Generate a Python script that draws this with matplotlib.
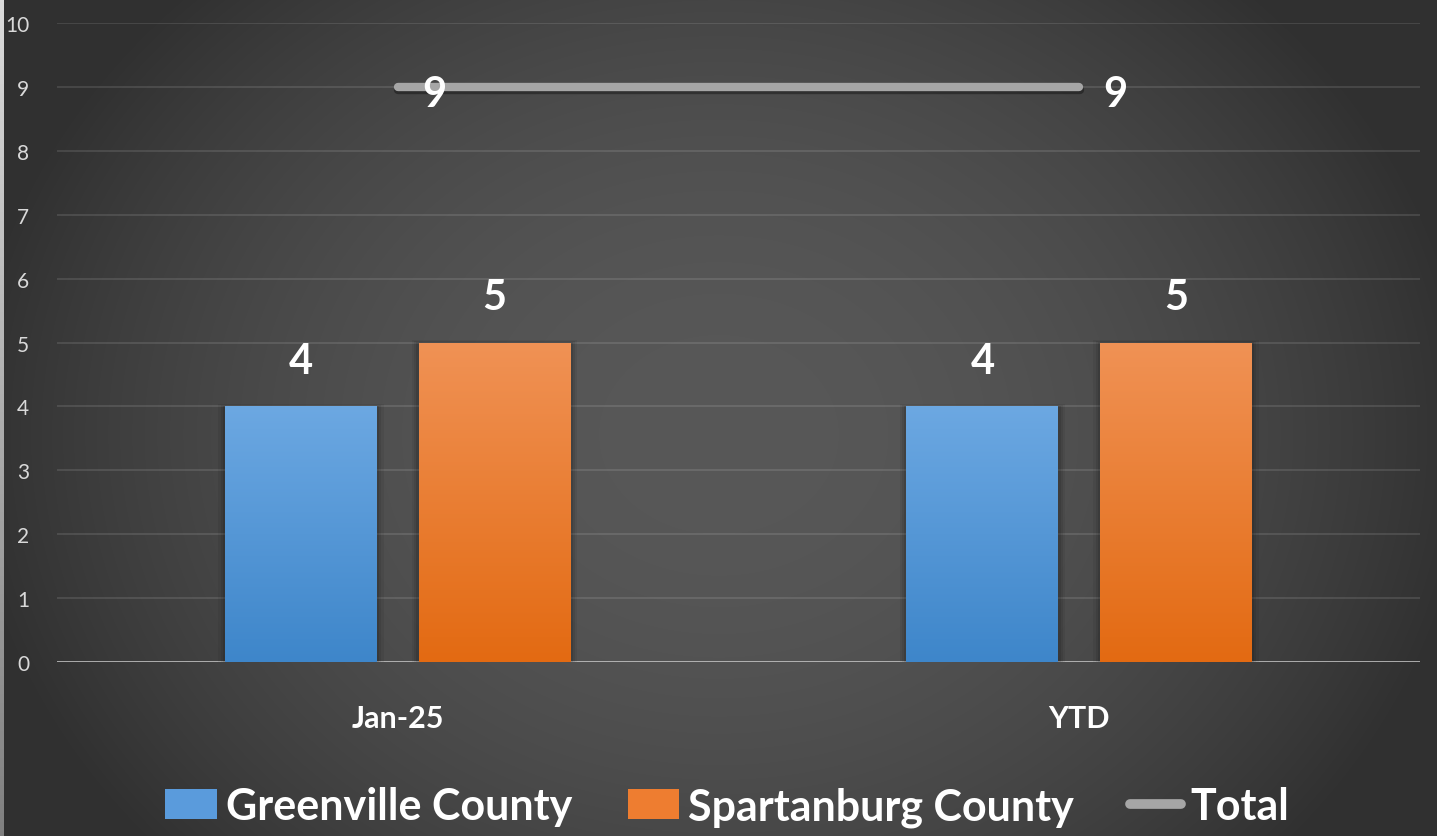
import numpy as np
import matplotlib
matplotlib.use("Agg")
import matplotlib.pyplot as plt
from matplotlib.patches import Rectangle
from matplotlib.lines import Line2D
import matplotlib.patheffects as pe

# ---- data ----
categories = ["Jan-25", "YTD"]
greenville = [4, 4]
spartanburg = [5, 5]
total = [9, 9]
yticks = list(range(0, 11))
series_names = ["Greenville County", "Spartanburg County", "Total"]

FONT = ["Lato", "DejaVu Sans"]
plt.rcParams["font.family"] = FONT

W, H = 1437, 837
fig = plt.figure(figsize=(W / 100, H / 100), dpi=100)

# ---- background: radial dark-gray gradient ----
bg = fig.add_axes([0, 0, 1, 1], zorder=-10)
yy, xx = np.mgrid[0:H, 0:W]
dx = (xx / W - 0.5) / 0.5
dy = (yy / H - 0.52) / 0.5
d2 = dx ** 2 + (dy * 0.7) ** 2
lev = np.clip(88 - 36 * d2, 48, 88) / 255.0
img = np.dstack([lev, lev, lev])
# light strip on the left edge
strip = np.linspace(0.86, 0.5, H)[:, None]
img[:, :4, :] = strip[:, :, None]
bg.imshow(img, aspect="auto", extent=[0, 1, 0, 1], origin="upper")
bg.set_xlim(0, 1)
bg.set_ylim(0, 1)
bg.axis("off")

# ---- main axes ----
ax = fig.add_axes([57 / W, (H - 663) / H, (1420 - 57) / W, (663 - 24) / H])
ax.set_facecolor("none")
ax.set_xlim(-0.5, 1.5)
ax.set_ylim(0, 10)
for s in ax.spines.values():
    s.set_visible(False)
ax.set_yticks(yticks)
ax.set_yticklabels([str(t) for t in yticks], color="#d9d9d9", fontsize=15)
ax.tick_params(axis="y", length=0, pad=20)
ax.grid(axis="y", color="white", alpha=0.12, lw=1.3, zorder=0)
ax.axhline(0, color="#c8c8c8", lw=1.8, zorder=2)

x = np.arange(len(categories))
ax.set_xticks(x)
ax.set_xticklabels(categories, color="white", fontsize=22, fontweight="bold")
ax.tick_params(axis="x", length=0, pad=30)

bw = 0.223
off = 0.142

def grad_bars(xs, vals, top_rgb, bot_rgb):
    bars = ax.bar(xs, vals, width=bw, color="none", zorder=3)
    g = np.linspace(0, 1, 256)[:, None]
    top = np.array(top_rgb)
    bot = np.array(bot_rgb)
    gimg = (top[None, None, :] * (1 - g[:, :, None]) + bot[None, None, :] * g[:, :, None])
    for b in bars:
        x0, y0 = b.get_x(), b.get_y()
        w, h = b.get_width(), b.get_height()
        # soft shadow around the bar
        for k, a in ((0.010, 0.06), (0.006, 0.08), (0.003, 0.10)):
            sh = Rectangle((x0 - k, y0), w + 2 * k, h + 4 * k, facecolor="black",
                           alpha=a, edgecolor="none", zorder=2.5)
            ax.add_patch(sh)
        im = ax.imshow(gimg, extent=[x0, x0 + w, y0, y0 + h], aspect="auto",
                       origin="upper", zorder=3)
        im.set_clip_path(b)
    ax.set_xlim(-0.5, 1.5)
    ax.set_ylim(0, 10)
    return bars

blue_top = (0x6c / 255, 0xa8 / 255, 0xe2 / 255)
blue_bot = (0x3e / 255, 0x86 / 255, 0xca / 255)
orng_top = (0xf0 / 255, 0x92 / 255, 0x55 / 255)
orng_bot = (0xe3 / 255, 0x6a / 255, 0x12 / 255)

gb = grad_bars(x - off, greenville, blue_top, blue_bot)
sb = grad_bars(x + off, spartanburg, orng_top, orng_bot)

for bars, vals in ((gb, greenville), (sb, spartanburg)):
    for b, v in zip(bars, vals):
        ax.annotate(str(v), (b.get_x() + b.get_width() / 2, v), xytext=(0, 33),
                    textcoords="offset points", ha="center", va="center",
                    color="white", fontsize=30, fontweight="bold", zorder=6)

# total line with a soft shadow
ax.plot(x, total, color="#a6a6a6", lw=6, solid_capstyle="round", zorder=4,
        path_effects=[pe.SimpleLineShadow(offset=(0.5, -2), shadow_color="black", alpha=0.35),
                      pe.Normal()])
for xi, v in zip(x, total):
    ax.annotate(str(v), (xi, v), xytext=(26, -5), textcoords="offset points",
                ha="center", va="center", color="white", fontsize=30,
                fontweight="bold", zorder=6)

# ---- legend ----
handles = [
    Rectangle((0, 0), 1, 1, facecolor="#5a9bdc", edgecolor="none"),
    Rectangle((0, 0), 1, 1, facecolor="#ee7d30", edgecolor="none"),
    Line2D([0], [0], color="#a6a6a6", lw=7, solid_capstyle="round"),
]
leg = fig.legend(handles, series_names, loc="center", bbox_to_anchor=(0.506, 0.035),
                 ncol=3, frameon=False,
                 prop={"family": FONT, "weight": "bold", "size": 31},
                 handlelength=1.2, handleheight=0.7, handletextpad=0.2,
                 columnspacing=1.3, labelcolor="white")

fig.savefig("out.png", dpi=100)
